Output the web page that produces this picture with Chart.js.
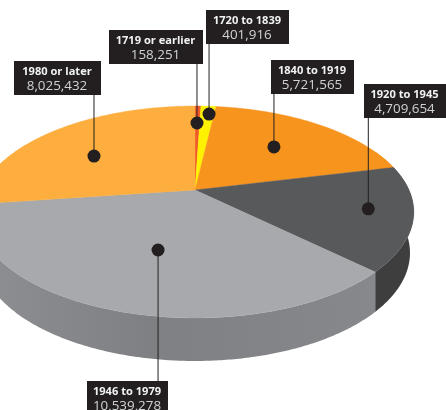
<!DOCTYPE html>
<html>
<head>
<meta charset="utf-8">
<style>html,body{margin:0;padding:0;background:#fff;overflow:hidden}canvas{display:block}</style>
<script src="https://cdn.jsdelivr.net/npm/chart.js@4"></script>
</head>
<body>
<canvas id="c" width="446" height="410"></canvas>
<script>
const categories = ['1719 or earlier','1720 to 1839','1840 to 1919','1920 to 1945','1946 to 1979','1980 or later'];
const values = [158251,401916,5721565,4709654,10539278,8025432];
const valueLabels = ['158,251','401,916','5,721,565','4,709,654','10,539,278','8,025,432'];
const topColors = ['#f15a29','#fff200','#f7941e','#58595b','#a7a9ac','#fdae3e'];
const wallColors = ['#c94a20','#d8cc00','#c97a18','#3e3e3e','#828386','#d08e30'];
// callout layout: box left, top, width; position of the dot inside its slice
const boxLeft = [109,206,271,364,87,14];
const boxTop = [30,10,60,84,381,61];
const boxWidth = [94,83,83,82,81,87];
const dotAlong = [0.42,0.63,0.49,0.46,0.486,0.441];
const dotRadial = [0.766,0.89,0.617,0.80,0.549,0.622];

// projection of the round pie onto the tilted plane
const tilt = -0.2075, sx = 214/190, sy = 101.4/190;
const lowSx = 210.3/190, lowSy = 103.4/190, lowDy = 40.5;

function project(el, angle, r, scx, scy, dy){
  const u = Math.cos(angle)*r, v = Math.sin(angle)*r, w = 1 + tilt*v;
  return [el.x + el.outerRadius*scx*u/w, el.y + dy + el.outerRadius*scy*v/w];
}
function trace(ctx, el, a0, a1, scx, scy, dy, move){
  const n = Math.max(2, Math.ceil(Math.abs(a1-a0)/0.01));
  for(let i=0;i<=n;i++){
    const p = project(el, a0+(a1-a0)*i/n, 1, scx, scy, dy);
    if(i===0 && move) ctx.moveTo(p[0],p[1]); else ctx.lineTo(p[0],p[1]);
  }
}
const pie3d = {
  id:'pie3d',
  beforeDatasetsDraw(chart){
    const ctx = chart.ctx, arcs = chart.getDatasetMeta(0).data;
    ctx.save();
    // side wall: the seam between two slices stays vertical
    arcs.forEach((el,i)=>{
      const seam = project(arcs[4], arcs[4].startAngle, 1, sx, sy, 0)[0];
      ctx.save();
      ctx.beginPath();
      if(i===4) ctx.rect(-10,0,seam+10,410);
      else ctx.rect(seam,0,500,410);
      ctx.clip();
      ctx.beginPath();
      trace(ctx, el, el.startAngle, el.endAngle, sx, sy, 0, true);
      trace(ctx, el, el.endAngle, el.startAngle-0.15, lowSx, lowSy, lowDy, false);
      ctx.closePath();
      ctx.fillStyle = wallColors[i];
      if(i===4){
        const g = ctx.createLinearGradient(0,0,375,0);
        g.addColorStop(0,'#8c8d90');g.addColorStop(0.4,'#7f8083');g.addColorStop(1,'#87888b');
        ctx.fillStyle = g;
      }
      ctx.fill();
      ctx.restore();
    });
    // top face
    arcs.forEach((el,i)=>{
      ctx.beginPath();
      ctx.moveTo(el.x, el.y);
      trace(ctx, el, el.startAngle, el.endAngle, sx, sy, 0, false);
      ctx.closePath();
      ctx.fillStyle = topColors[i];
      ctx.strokeStyle = topColors[i];
      ctx.lineWidth = 0.4;
      ctx.fill();
      ctx.stroke();
    });
    ctx.restore();
    return false;
  },
  afterDraw(chart){
    const ctx = chart.ctx, arcs = chart.getDatasetMeta(0).data;
    ctx.save();
    arcs.forEach((el,i)=>{
      const a = el.startAngle + (el.endAngle-el.startAngle)*dotAlong[i];
      const p = project(el, a, dotRadial[i], sx, sy, 0);
      const lx = p[0];
      const boxH = 34, by = boxTop[i];
      const ly = by > p[1] ? by : by + boxH;
      ctx.strokeStyle = '#231f20'; ctx.lineWidth = 1;
      ctx.beginPath(); ctx.moveTo(lx, p[1]); ctx.lineTo(lx, ly); ctx.stroke();
      ctx.fillStyle = '#231f20';
      ctx.beginPath(); ctx.arc(p[0], p[1], 6.5, 0, Math.PI*2); ctx.fill();
    });
    arcs.forEach((el,i)=>{
      const boxH = 34, bx = boxLeft[i], by = boxTop[i], bw = boxWidth[i];
      ctx.fillStyle = '#231f20';
      ctx.fillRect(bx, by, bw, boxH);
      ctx.textAlign = 'center'; ctx.textBaseline = 'alphabetic';
      const cx = bx + bw/2 - 0.5;
      ctx.font = 'bold 11.1px "Open Sans"';
      ctx.fillStyle = '#f1f2f2';
      ctx.fillText(categories[i], cx, by + 13.5);
      ctx.font = '13.4px "Open Sans"';
      ctx.fillStyle = '#d1d3d4';
      ctx.fillText(valueLabels[i], cx, by + 29);
    });
    ctx.restore();
  }
};
new Chart(document.getElementById('c'),{
  type:'pie',
  data:{labels:categories,datasets:[{data:values,backgroundColor:topColors,borderWidth:0}]},
  options:{
    responsive:false,animation:false,devicePixelRatio:1,
    layout:{padding:{left:0,top:0,right:56,bottom:30}},
    plugins:{legend:{display:false},tooltip:{enabled:false}},
    events:[]
  },
  plugins:[pie3d]
});
</script>
</body>
</html>
